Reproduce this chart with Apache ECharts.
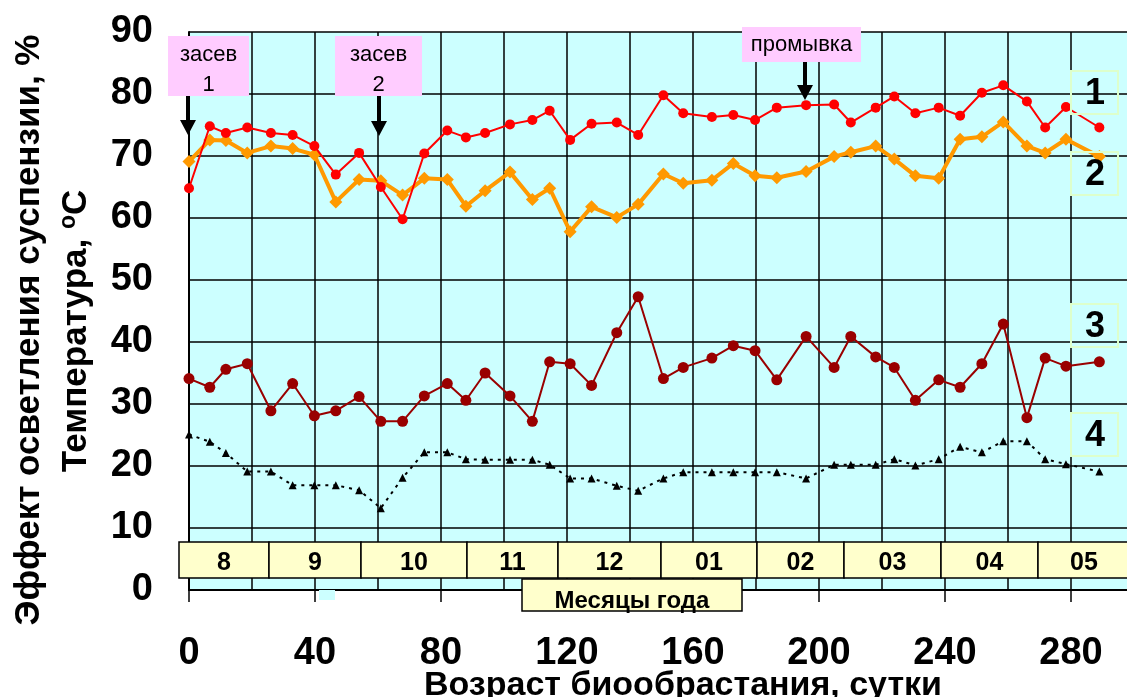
<!DOCTYPE html>
<html><head><meta charset="utf-8">
<script src="https://cdn.jsdelivr.net/npm/echarts@6/dist/echarts.min.js"></script>
<style>html,body{margin:0;padding:0;background:#fff}#c{width:1127px;height:697px}</style>
</head><body><div id="c"></div>
<script>
// Day of biofouling age for each observation
const days = [0, 6.6, 11.7, 18.5, 26, 32.9, 39.8, 46.6, 54, 60.9, 67.8, 74.7, 82, 87.9, 94, 101.9, 109, 114.5, 121, 127.8, 135.8, 142.6, 150.6, 156.9, 166, 172.8, 179.7, 186.6, 195.9, 204.8, 210.1, 218, 223.9, 230.6, 238, 244.8, 251.7, 258.5, 266, 271.8, 278.4, 289];
// Series 1 (red)
const s1 = [64.8, 74.8, 73.7, 74.6, 73.7, 73.4, 71.6, 67.0, 70.5, 65.0, 59.8, 70.4, 74.1, 73.0, 73.7, 75.1, 75.8, 77.3, 72.6, 75.2, 75.4, 73.4, 79.8, 76.9, 76.3, 76.6, 75.8, 77.8, 78.2, 78.3, 75.4, 77.8, 79.6, 76.9, 77.8, 76.5, 80.2, 81.4, 78.8, 74.6, 77.9, 74.6];
// Series 2 (orange)
const s2 = [69.1, 72.6, 72.5, 70.5, 71.6, 71.2, 70.2, 62.6, 66.2, 66.0, 63.7, 66.4, 66.2, 61.9, 64.4, 67.4, 63.0, 64.8, 57.8, 61.8, 60.1, 62.2, 67.1, 65.6, 66.1, 68.8, 66.8, 66.5, 67.5, 69.9, 70.6, 71.6, 69.5, 66.8, 66.4, 72.7, 73.1, 75.5, 71.6, 70.5, 72.7, 69.9];
// Series 3 (dark red)
const s3 = [34.1, 32.7, 35.6, 36.5, 28.9, 33.3, 28.1, 28.9, 31.2, 27.2, 27.2, 31.3, 33.3, 30.6, 35.0, 31.3, 27.2, 36.8, 36.5, 33.0, 41.5, 47.3, 34.1, 35.9, 37.4, 39.4, 38.6, 33.9, 40.9, 35.9, 40.9, 37.6, 35.9, 30.6, 33.9, 32.7, 36.5, 42.9, 27.8, 37.4, 36.1, 36.8];
// Series 4 (black, dashed)
const s4 = [25.1, 23.9, 22.1, 19.1, 19.1, 16.9, 16.9, 16.9, 16.1, 13.2, 18.1, 22.2, 22.2, 21.1, 21.0, 21.0, 21.0, 20.2, 18.0, 18.0, 16.8, 16.0, 18.0, 19.0, 19.0, 19.0, 19.0, 19.0, 18.0, 20.2, 20.2, 20.2, 21.1, 20.1, 21.1, 23.1, 22.2, 24.0, 24.0, 21.1, 20.3, 19.1];
// Month band
const months = ['8', '9', '10', '11', '12', '01', '02', '03', '04', '05'];
const monthEdges = [179, 269, 361, 467, 558, 661, 757, 844, 941, 1038, 1130];
const seriesNames = ['1', '2', '3', '4'];

const FF = '"Liberation Sans", Arial, sans-serif';
const pairs = arr => days.map((d, i) => [d, arr[i]]);

const chart = echarts.init(document.getElementById('c'), null, {renderer: 'canvas'});

const graphics = [];
// month band
for (let i = 0; i < months.length; i++) {
  const x0 = monthEdges[i], x1 = monthEdges[i + 1];
  graphics.push({type: 'rect', z: 100, shape: {x: x0, y: 542, width: x1 - x0, height: 36},
    style: {fill: '#FFFFCC', stroke: '#000', lineWidth: 1.5}});
  graphics.push({type: 'text', z: 101, x: (x0 + x1) / 2, y: 563,
    style: {text: months[i], font: 'bold 25px ' + FF, fill: '#000', textAlign: 'center', textVerticalAlign: 'middle'}});
}
// "Месяцы года"
graphics.push({type: 'rect', z: 100, shape: {x: 522, y: 579, width: 220, height: 32},
  style: {fill: '#FFFFCC', stroke: '#000', lineWidth: 1.5}});
graphics.push({type: 'text', z: 101, x: 632, y: 601,
  style: {text: 'Месяцы года', font: 'bold 24px ' + FF, fill: '#000', textAlign: 'center', textVerticalAlign: 'middle'}});
graphics.push({type: 'rect', z: 100, shape: {x: 319, y: 590, width: 16, height: 10}, style: {fill: '#CCFFFF'}});

// callouts
function callout(x, y, w, h, lines, ax, ay1, ay2) {
  graphics.push({type: 'rect', z: 100, shape: {x, y, width: w, height: h}, style: {fill: '#FFCCFF'}});
  lines.forEach((t, k) => {
    graphics.push({type: 'text', z: 101, x: x + w / 2, y: y + (lines.length === 1 ? h / 2 : 19 + k * 30),
      style: {text: t, font: '22px ' + FF, fill: '#000', textAlign: 'center', textVerticalAlign: 'middle'}});
  });
  graphics.push({type: 'line', z: 102, shape: {x1: ax, y1: ay1, x2: ax, y2: ay2 - 10}, style: {stroke: '#000', lineWidth: 4}});
  graphics.push({type: 'polygon', z: 102, shape: {points: [[ax - 8, ay2 - 15], [ax + 8, ay2 - 15], [ax, ay2]]}, style: {fill: '#000'}});
}
callout(168, 36, 81, 60, ['засев', '1'], 188, 96, 135);
callout(335, 36, 87, 60, ['засев', '2'], 379, 96, 136);
callout(742, 27, 119, 35, ['промывка'], 805, 62, 100);

// series number boxes
const boxY = [71, 152, 304, 413];
seriesNames.forEach((n, i) => {
  graphics.push({type: 'rect', z: 100, shape: {x: 1071, y: boxY[i], width: 47, height: 43},
    style: {fill: 'none', stroke: '#DDFFCC', lineWidth: 2}});
  graphics.push({type: 'text', z: 101, x: 1095, y: boxY[i] + 23,
    style: {text: n, font: 'bold 36px ' + FF, fill: '#000', textAlign: 'center', textVerticalAlign: 'middle'}});
});

// axis titles
graphics.push({type: 'text', z: 101, x: 29, y: 330, rotation: Math.PI / 2,
  style: {text: 'Эффект осветления суспензии, %', font: 'bold 35px ' + FF, fill: '#000', textAlign: 'center', textVerticalAlign: 'middle'}});
graphics.push({type: 'text', z: 101, x: 76, y: 331, rotation: Math.PI / 2,
  style: {text: 'Температура, {sup|o}C', font: 'bold 35px ' + FF, fill: '#000', textAlign: 'center', textVerticalAlign: 'middle',
    rich: {sup: {font: 'bold 23px ' + FF, fill: '#000', verticalAlign: 'top', padding: [0, 0, 14, 0]}}}});
graphics.push({type: 'text', z: 101, x: 683, y: 686,
  style: {text: 'Возраст биообрастания, сутки', font: 'bold 34px ' + FF, fill: '#000', textAlign: 'center', textVerticalAlign: 'middle'}});

const option = {
  backgroundColor: '#fff',
  animation: false,
  grid: {left: 189, top: 32, width: 945, height: 558, show: true, backgroundColor: '#CCFFFF', borderWidth: 0,
    containLabel: false, outerBoundsMode: 'none'},
  xAxis: [
    {type: 'value', min: 0, max: 300, interval: 20,
      axisLine: {show: true, lineStyle: {color: '#000', width: 2}},
      axisTick: {show: false}, axisLabel: {show: false},
      splitLine: {show: true, lineStyle: {color: '#000', width: 1.5}}},
    {type: 'value', min: 0, max: 300, interval: 40, position: 'bottom',
      axisLine: {show: false},
      axisTick: {show: true, length: 12, lineStyle: {color: '#000', width: 1.5}},
      axisLabel: {show: true, margin: 45, showMaxLabel: false, color: '#000', fontFamily: FF, fontWeight: 'bold', fontSize: 38},
      splitLine: {show: false}}
  ],
  yAxis: {type: 'value', min: 0, max: 90, interval: 10,
    axisLine: {show: true, lineStyle: {color: '#000', width: 2}},
    axisTick: {show: false},
    axisLabel: {margin: 36, color: '#000', fontFamily: FF, fontWeight: 'bold', fontSize: 38},
    splitLine: {show: true, lineStyle: {color: '#000', width: 1.5}}},
  series: [
    {name: '2', type: 'line', data: pairs(s2), symbol: 'diamond', symbolSize: 13,
      itemStyle: {color: '#FF9900'}, lineStyle: {color: '#FF9900', width: 4}, z: 3},
    {name: '1', type: 'line', data: pairs(s1), symbol: 'circle', symbolSize: 10,
      itemStyle: {color: '#FF0000'}, lineStyle: {color: '#FF0000', width: 2}, z: 4},
    {name: '3', type: 'line', data: pairs(s3), symbol: 'circle', symbolSize: 11,
      itemStyle: {color: '#990000'}, lineStyle: {color: '#990000', width: 2}, z: 3},
    {name: '4', type: 'line', data: pairs(s4), symbol: 'triangle', symbolSize: 8,
      itemStyle: {color: '#000'}, lineStyle: {color: '#000', width: 2, type: [3, 5]}, z: 3}
  ],
  graphic: graphics
};
chart.setOption(option);
</script>
</body></html>
